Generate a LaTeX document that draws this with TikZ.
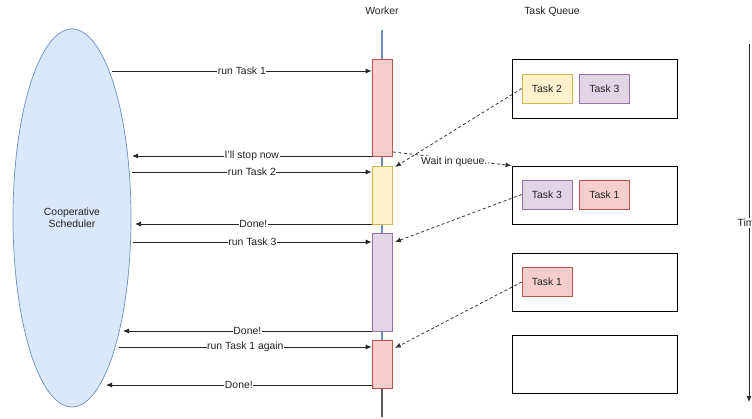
\documentclass[tikz,border=0pt]{standalone}
\usepackage{fontspec}
\setmainfont{Liberation Sans}
\usetikzlibrary{arrows.meta,shapes.geometric,calc}
\definecolor{redF}{HTML}{F8CECC}\definecolor{redD}{HTML}{B85450}
\definecolor{yelF}{HTML}{FFF2CC}\definecolor{yelD}{HTML}{D6B656}
\definecolor{purF}{HTML}{E1D5E7}\definecolor{purD}{HTML}{9673A6}
\definecolor{bluF}{HTML}{DAE8FC}\definecolor{bluD}{HTML}{6C8EBF}
\definecolor{txt}{HTML}{222222}
\begin{document}
\begin{tikzpicture}[x=1pt,y=-1pt,
  every node/.style={font=\fontsize{10.4}{12}\selectfont, text=txt},
  wbox/.style={draw, minimum width=20pt, inner sep=0pt, line width=0.6pt},
  chip/.style={draw, minimum width=50pt, minimum height=29pt, inner sep=0pt, line width=0.6pt},
  qbox/.style={draw, line width=0.9pt, minimum width=165pt, inner sep=0pt},
  msg/.style={draw=black!85, line width=0.8pt, -{Latex[length=6pt,width=5pt]}},
  lbl/.style={midway, fill=white, inner sep=0.5pt},
  dsh/.style={draw=black!80, line width=0.8pt, dash pattern=on 3pt off 2.5pt, -{Latex[length=6pt,width=5pt]}}]
\useasboundingbox (0,0) rectangle (752,419);
% Scheduler
\node[ellipse, draw=bluD, fill=bluF, minimum width=118pt, minimum height=378pt, inner sep=0pt, line width=0.7pt, align=center] (sched) at (72,218) {Cooperative\\Scheduler};
% Titles
\node (workerT) at (382,11) {Worker};
\node (queueT) at (552,12) {Task Queue};
% worker timeline
\coordinate (wtop) at (382,30);
\coordinate (wbot) at (382,417);
\coordinate (wmid) at (382,388);
\draw[bluD, line width=2.2pt] (wtop) -- (wmid);
\draw[black!65, line width=2.2pt] (wmid) -- (wbot);
% worker boxes
\node[wbox, fill=redF, draw=redD, minimum height=97pt] (w1) at (382,107.5) {};
\node[wbox, fill=yelF, draw=yelD, minimum height=58pt] (w2) at (382,195) {};
\node[wbox, fill=purF, draw=purD, minimum height=98pt] (w3) at (382,282) {};
\node[wbox, fill=redF, draw=redD, minimum height=48pt] (w4) at (382,364) {};
% scheduler-side ends
\coordinate (s1) at (112,71);
\coordinate (s2) at (132,156);
\coordinate (s3) at (132,172);
\coordinate (s4) at (135,224);
\coordinate (s5) at (133,242);
\coordinate (s6) at (123,331);
\coordinate (s7) at (119,347);
\coordinate (s8) at (106,385);
\draw[msg] (s1) -- (w1.west |- s1) node[lbl] {run Task 1};
\draw[msg] (w1.south west |- s2) -- (s2) node[lbl] {I'll stop now};
\draw[msg] (s3) -- (w2.west |- s3) node[lbl] {run Task 2};
\draw[msg] (w2.west |- s4) -- (s4) node[lbl] {Done!};
\draw[msg] (s5) -- (w3.west |- s5) node[lbl] {run Task 3};
\draw[msg] (w3.west |- s6) -- (s6) node[lbl] {Done!};
\draw[msg] (s7) -- (w4.west |- s7) node[lbl] {run Task 1 again};
\draw[msg] (w4.west |- s8) -- (s8) node[lbl] {Done!};
% queue boxes
\node[qbox, minimum height=59pt] (q1) at (594.5,88.5) {};
\node[qbox, minimum height=58pt] (q2) at (594.5,195) {};
\node[qbox, minimum height=58pt] (q3) at (594.5,282) {};
\node[qbox, minimum height=58pt] (q4) at (594.5,364) {};
% chips
\node[chip, fill=yelF, draw=yelD] (t2a) at (547,88.5) {Task 2};
\node[chip, fill=purF, draw=purD] (t3a) at (604.5,88.5) {Task 3};
\node[chip, fill=purF, draw=purD] (t3b) at (547,194.5) {Task 3};
\node[chip, fill=redF, draw=redD] (t1b) at (604.5,194.5) {Task 1};
\node[chip, fill=redF, draw=redD] (t1c) at (547,282) {Task 1};
% dashed connectors
\coordinate (d1) at (395,167);
\coordinate (d2s) at (393,152);
\coordinate (d3) at (395,242);
\coordinate (d4) at (395,348);
\draw[dsh] (t2a.west) -- (d1);
\draw[dsh] (d2s) -- (q2.north west) node[midway, below=-3pt, fill=white, inner sep=0.5pt, xshift=2pt] {Wait in queue.};
\draw[dsh] (t3b.west) -- (d3);
\draw[dsh] (t1c.west) -- (d4);
% time axis
\coordinate (ttop) at (749,44);
\coordinate (tbot) at (749,402);
\draw[black!85, line width=0.8pt, -{Latex[length=6pt,width=5pt]}] (ttop) -- (tbot) node[pos=0.5, fill=white, inner sep=1pt] {Time};
\end{tikzpicture}
\end{document}
